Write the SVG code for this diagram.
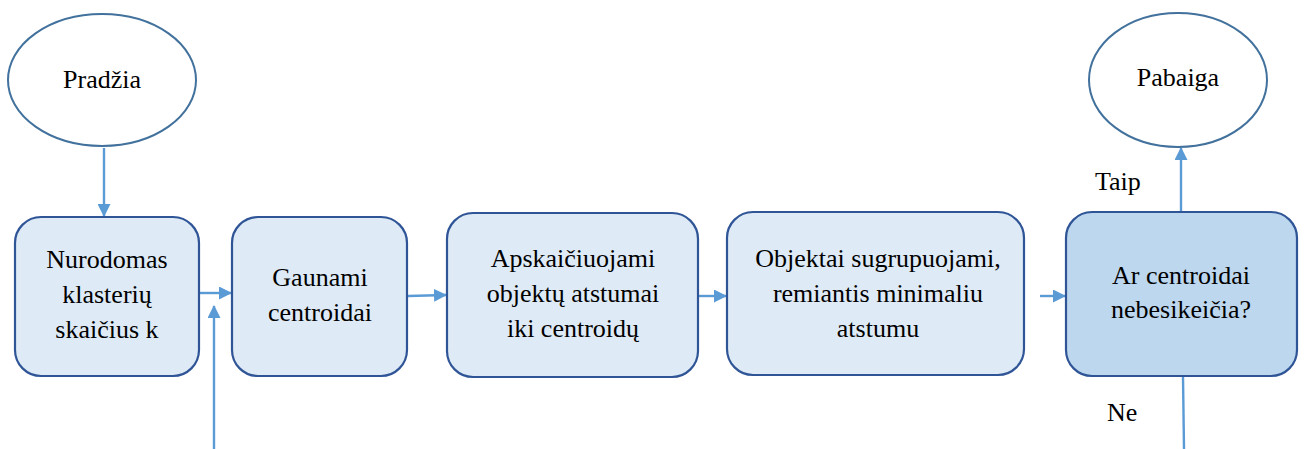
<svg xmlns="http://www.w3.org/2000/svg" width="1305" height="449" viewBox="0 0 1305 449">
<defs>
<marker id="ah" markerWidth="13" markerHeight="13" refX="12" refY="6.5" orient="auto" markerUnits="userSpaceOnUse" viewBox="0 0 13 13">
<path d="M0,0 L13,6.5 L0,13 z" fill="#5B9BD5"/>
</marker>
<style>
.box{fill:#DEEAF6;stroke:#2F5597;stroke-width:2.2}
.dec{fill:#BDD7EE;stroke:#2F5597;stroke-width:2.2}
.ell{fill:#FFFFFF;stroke:#41719C;stroke-width:2}
.t{font-family:"Liberation Serif","Times New Roman",serif;font-size:26px;fill:#000;text-anchor:middle}
.l{font-family:"Liberation Serif","Times New Roman",serif;font-size:26px;fill:#000}
.c{stroke:#5B9BD5;stroke-width:2.4;fill:none}
</style>
</defs>
<g id="connectors">
<line class="c" x1="104" y1="148" x2="104" y2="216" marker-end="url(#ah)"/>
<line class="c" x1="200" y1="293" x2="231" y2="293" marker-end="url(#ah)"/>
<line class="c" x1="214" y1="449" x2="214" y2="306" marker-end="url(#ah)"/>
<line class="c" x1="408" y1="296" x2="446" y2="295" marker-end="url(#ah)"/>
<line class="c" x1="698" y1="296" x2="726" y2="296" marker-end="url(#ah)"/>
<line class="c" x1="1040" y1="296" x2="1065" y2="296" marker-end="url(#ah)"/>
<line class="c" x1="1181" y1="211" x2="1181" y2="148" marker-end="url(#ah)"/>
<line class="c" x1="1183" y1="377" x2="1184" y2="449" stroke-width="1.4"/>
</g>
<g id="start">
<ellipse class="ell" cx="102" cy="80" rx="94" ry="66"/>
<text class="t" x="102" y="88">Pradžia</text>
</g>
<g id="n1">
<rect class="box" x="15" y="217" width="184" height="159" rx="26"/>
<text class="t" x="107" y="268">Nurodomas</text>
<text class="t" x="107" y="303">klasterių</text>
<text class="t" x="107" y="338">skaičius k</text>
</g>
<g id="n2">
<rect class="box" x="232" y="217" width="175" height="159" rx="26"/>
<text class="t" x="320" y="286">Gaunami</text>
<text class="t" x="320" y="321">centroidai</text>
</g>
<g id="n3">
<rect class="box" x="447" y="213" width="251" height="164" rx="26"/>
<text class="t" x="573" y="267">Apskaičiuojami</text>
<text class="t" x="573" y="302">objektų atstumai</text>
<text class="t" x="573" y="337">iki centroidų</text>
</g>
<g id="n4">
<rect class="box" x="727" y="212" width="297" height="163" rx="26"/>
<text class="t" x="878" y="267">Objektai sugrupuojami,</text>
<text class="t" x="878" y="302">remiantis minimaliu</text>
<text class="t" x="878" y="337">atstumu</text>
</g>
<g id="n5">
<rect class="dec" x="1066" y="212" width="231" height="164" rx="26"/>
<text class="t" x="1181" y="284">Ar centroidai</text>
<text class="t" x="1181" y="318">nebesikeičia?</text>
</g>
<g id="end">
<ellipse class="ell" cx="1178" cy="80" rx="89" ry="67"/>
<text class="t" x="1178" y="86">Pabaiga</text>
</g>
<g id="labels">
<text class="l" x="1095" y="190">Taip</text>
<text class="l" x="1107" y="421">Ne</text>
</g>
</svg>
